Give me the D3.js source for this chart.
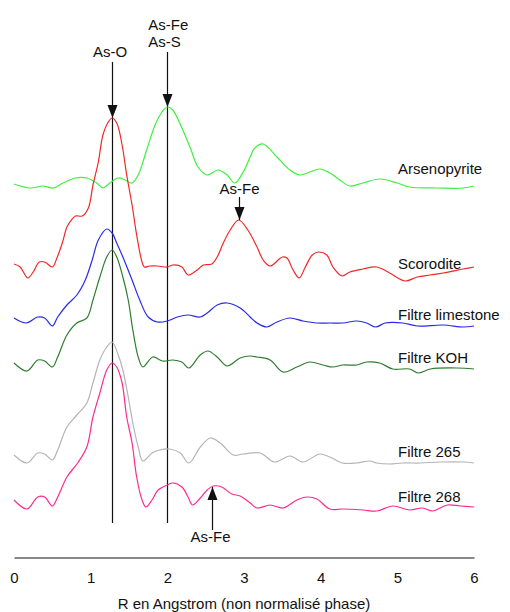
<!DOCTYPE html>
<html>
<head>
<meta charset="utf-8">
<script src="https://cdn.jsdelivr.net/npm/d3@7"></script>
<style>
  body { margin: 0; background: #fff; }
  svg text { font-family: "Liberation Sans", Arial, sans-serif; font-size: 15px; fill: #111; }
</style>
</head>
<body>
<div id="chart"></div>
<script>
// R (Angstrom) and intensity (arbitrary units, curves stacked with offsets)
var names = ["Arsenopyrite", "Scorodite", "Filtre limestone", "Filtre KOH", "Filtre 265", "Filtre 268"];
var colors = ["#3ef03e", "#f02828", "#2a2ae8", "#2f7d2f", "#b4b4b4", "#ff2a8f"];

var arsenopyrite = [[0,74.6],[0.21,73.8],[0.38,74.2],[0.51,73.8],[0.64,74.8],[0.80,75.8],[0.95,75.8],[1.08,74.8],[1.16,73.8],[1.25,74.8],[1.36,75.8],[1.45,75.4],[1.54,74.8],[1.62,76.4],[1.73,81.4],[1.84,86.4],[1.93,89],[2.00,90],[2.07,89.4],[2.19,85.8],[2.30,81.8],[2.40,78],[2.52,76.4],[2.66,77.4],[2.78,76.4],[2.88,74.8],[2.99,77],[3.08,80],[3.14,81.8],[3.25,82.6],[3.43,80],[3.60,77.4],[3.73,76.4],[3.86,77],[3.99,77.6],[4.12,76.8],[4.25,75.4],[4.38,74.2],[4.55,74.8],[4.77,75.6],[5.00,74.8],[5.16,74],[5.52,73.8],[5.86,73.8],[6.0,74.2]];

var scorodite = [[0,58.6],[0.08,58],[0.18,55.8],[0.25,57],[0.33,59],[0.40,59],[0.50,58],[0.56,59.8],[0.63,62.8],[0.69,66],[0.73,67],[0.80,68.2],[0.89,68.2],[0.97,69.8],[1.03,74.4],[1.10,79],[1.16,84.4],[1.23,87],[1.28,87.8],[1.34,86.8],[1.41,82.4],[1.47,76.4],[1.54,70.4],[1.60,64.4],[1.67,59],[1.70,58],[1.77,58.2],[1.87,58.2],[2.00,58],[2.07,58.4],[2.19,58],[2.27,56.4],[2.39,57.4],[2.47,58.4],[2.58,58.6],[2.65,60],[2.73,62.8],[2.82,65.4],[2.93,67.4],[3.05,65.4],[3.17,62],[3.25,59.4],[3.34,58.2],[3.50,60],[3.56,59.8],[3.64,57.4],[3.72,55.8],[3.80,58],[3.89,60.4],[3.97,61],[4.08,60.4],[4.16,58],[4.28,56.2],[4.38,57],[4.55,57.6],[4.73,58],[4.90,56.8],[5.10,55.2],[5.26,56],[5.43,56.4],[5.60,56.8],[5.86,57.6],[6.0,58]];

var limestone = [[0,47.8],[0.16,46.8],[0.31,48],[0.40,47.8],[0.50,46.2],[0.57,48],[0.69,50.4],[0.82,52.4],[0.93,55.4],[1.02,59.4],[1.10,63.4],[1.21,65.6],[1.28,64.8],[1.34,62.8],[1.42,60],[1.54,55.4],[1.64,51.4],[1.75,48],[1.87,47],[2.00,47.2],[2.13,48],[2.27,48.4],[2.43,48],[2.52,48.8],[2.65,50.4],[2.78,50.8],[2.95,49.8],[3.08,48],[3.17,46.8],[3.30,46],[3.43,47],[3.60,47.8],[3.77,47.2],[3.95,46.8],[4.12,46.8],[4.29,46.8],[4.47,47.2],[4.60,46.8],[4.72,46],[4.84,46.8],[5.07,46.8],[5.26,46.2],[5.60,46.4],[5.86,46],[6.0,46.2]];

var koh = [[0,38.8],[0.17,37.2],[0.31,39.4],[0.40,39.2],[0.50,38],[0.57,40],[0.69,44.4],[0.82,46.8],[0.95,47.8],[1.03,51.4],[1.12,56],[1.21,60],[1.28,61.4],[1.34,60],[1.42,56],[1.49,51.4],[1.55,45.4],[1.62,40],[1.68,38],[1.81,40],[1.94,39.2],[2.07,39.4],[2.19,39],[2.28,37.8],[2.43,40.4],[2.53,41.2],[2.65,40],[2.78,38.2],[2.95,39.8],[3.08,40.2],[3.17,40],[3.34,39.4],[3.51,37],[3.69,38],[3.86,39],[4.03,38.4],[4.16,38],[4.29,38.4],[4.47,38.4],[4.60,39],[4.77,38.8],[4.94,37.6],[5.16,37.6],[5.27,36.8],[5.43,37.6],[5.78,37.8],[6.0,37.6]];

var filtre265 = [[0,20.4],[0.17,18.8],[0.31,20.8],[0.40,20.6],[0.50,19.4],[0.57,21.4],[0.69,26],[0.82,28.4],[0.95,30.8],[1.03,34.8],[1.12,39.4],[1.21,42],[1.28,43],[1.36,40.4],[1.42,37.4],[1.49,32],[1.55,26.8],[1.62,22],[1.68,19.2],[1.80,20.8],[1.90,21.4],[2.03,21.6],[2.17,20.8],[2.28,18.8],[2.43,22],[2.56,23.8],[2.69,22.8],[2.86,20.4],[2.99,20.6],[3.21,20.8],[3.40,19],[3.60,20.2],[3.77,19],[3.99,20.6],[4.12,20],[4.28,18.8],[4.47,18.8],[4.64,19.2],[4.73,18.8],[4.90,18.6],[5.07,18.8],[5.30,18.8],[5.56,19],[5.86,19],[6.0,18.8]];

var filtre268 = [[0,11.4],[0.17,9.6],[0.31,12],[0.40,12],[0.50,10.2],[0.57,12],[0.69,16],[0.83,18.8],[0.95,22],[1.03,28],[1.12,32.8],[1.21,37.4],[1.28,38.8],[1.34,38],[1.41,34.8],[1.47,28],[1.54,22.8],[1.60,16],[1.67,11.4],[1.72,10],[1.80,11.4],[1.88,13.4],[2.00,14.4],[2.07,14.8],[2.19,14],[2.27,12],[2.33,10.4],[2.43,11.8],[2.52,13.4],[2.60,14.2],[2.71,14],[2.84,12.6],[2.95,12.2],[3.08,10.8],[3.17,9.8],[3.34,10.4],[3.51,9.8],[3.69,11.4],[3.82,12],[3.95,11.6],[4.12,9.6],[4.29,9.6],[4.55,9.4],[4.73,9.2],[4.94,10.2],[5.16,9.4],[5.33,9.8],[5.46,9.2],[5.65,10.4],[5.82,10.2],[6.0,10]];

var series = [arsenopyrite, scorodite, limestone, koh, filtre265, filtre268];

var xTicks = [0, 1, 2, 3, 4, 5, 6];
var xTitle = "R en Angstrom (non normalisé phase)";

// reference lines: r position, top and bottom (intensity units)
var refLines = [
  { r: 1.28, top: 99, bottom: 6.8, tip: 87.8, label: ["As-O"] },
  { r: 2.00, top: 101, bottom: 6.8, tip: 90, label: ["As-Fe", "As-S"] }
];
// extra pointers: r, arrow start, arrow tip
var pointers = [
  { r: 2.93, from: 72, tip: 67.4, label: "As-Fe" },
  { r: 2.58, from: 5.4, tip: 14, label: "As-Fe" }
];

var width = 510, height = 612;

var svg = d3.select("#chart").append("svg")
  .attr("width", width)
  .attr("height", height);

var x = d3.scaleLinear().domain([0, 6]).range([14, 474]);
var y = d3.scaleLinear().domain([0, 110]).range([557, 7]);

var line = d3.line()
  .x(function(d) { return x(d[0]); })
  .y(function(d) { return y(d[1]); })
  .curve(d3.curveCatmullRom.alpha(0.5));

// vertical reference lines
svg.selectAll(".ref")
  .data(refLines)
  .enter().append("line")
  .attr("class", "ref")
  .attr("x1", function(d) { return Math.round(x(d.r)) + 0.5; })
  .attr("x2", function(d) { return Math.round(x(d.r)) + 0.5; })
  .attr("y1", function(d) { return y(d.top); })
  .attr("y2", function(d) { return y(d.bottom); })
  .attr("stroke", "#111")
  .attr("stroke-width", 1.2);

// curves
svg.selectAll(".curve")
  .data(series)
  .enter().append("path")
  .attr("class", "curve")
  .attr("d", line)
  .attr("fill", "none")
  .attr("stroke", function(d, i) { return colors[i]; })
  .attr("stroke-width", 1.2);

// series labels
var labelDy = [-12, 2, -6, -6, -6, -5];
svg.selectAll(".name")
  .data(names)
  .enter().append("text")
  .attr("class", "name")
  .attr("x", 398)
  .attr("y", function(d, i) { var s = series[i]; return y(s[s.length - 1][1]) + labelDy[i]; })
  .text(function(d) { return d; });

function arrowHead(px, py, dir) {
  // dir 1 = pointing down, -1 = pointing up
  return "M" + (px - 5) + "," + (py - 13 * dir) + "L" + (px + 5) + "," + (py - 13 * dir) + "L" + px + "," + py + "Z";
}

refLines.forEach(function(d) {
  var px = Math.round(x(d.r)) + 0.5;
  svg.append("path").attr("d", arrowHead(px, y(d.tip), 1)).attr("fill", "#111");
});

// labels over reference lines
svg.append("text").attr("x", x(refLines[0].r) - 2).attr("y", y(refLines[0].top) - 5)
  .attr("text-anchor", "middle").text(refLines[0].label[0]);
svg.append("text").attr("x", x(refLines[1].r) - 19).attr("y", y(refLines[1].top) - 22)
  .text(refLines[1].label[0]);
svg.append("text").attr("x", x(refLines[1].r) - 19).attr("y", y(refLines[1].top) - 5)
  .text(refLines[1].label[1]);

// pointers
pointers.forEach(function(d, i) {
  var px = Math.round(x(d.r)) + 0.5;
  var dir = d.from > d.tip ? 1 : -1;
  svg.append("line")
    .attr("x1", px).attr("x2", px)
    .attr("y1", y(d.from)).attr("y2", y(d.tip))
    .attr("stroke", "#111").attr("stroke-width", 1.2);
  svg.append("path").attr("d", arrowHead(px, y(d.tip), dir)).attr("fill", "#111");
  svg.append("text")
    .attr("x", px - (i === 1 ? 2 : 0))
    .attr("y", dir === 1 ? y(d.from) - 3 : y(d.from) + 12)
    .attr("text-anchor", "middle")
    .text(d.label);
});

// x axis
var axis = svg.append("g")
  .attr("transform", "translate(0," + (y(0) + 0.5) + ")")
  .call(d3.axisBottom(x).tickValues(xTicks).tickSize(0).tickSizeOuter(0).tickPadding(15).tickFormat(d3.format("d")));
axis.select(".domain").attr("stroke", "#111").attr("stroke-width", 1.2);
axis.selectAll("text").attr("font-size", "15px").attr("font-family", "Liberation Sans, Arial, sans-serif").attr("fill", "#111");

svg.append("text")
  .attr("x", x(3))
  .attr("y", 609)
  .attr("font-size", "15.5px")
  .attr("text-anchor", "middle")
  .text(xTitle);
</script>
</body>
</html>
